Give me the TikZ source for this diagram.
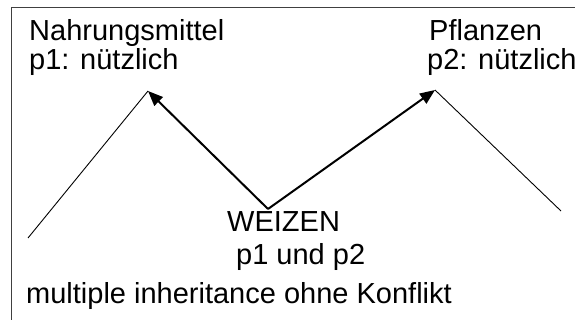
\documentclass[tikz,border=0pt]{standalone}
\usepackage{fontspec}
\setmainfont{Liberation Sans}
\usetikzlibrary{arrows.meta}
\begin{document}
\begin{tikzpicture}[x=1pt,y=-1pt,
  lbl/.style={inner sep=0pt,anchor=base west,font=\fontsize{29}{33}\selectfont},
  thinline/.style={line width=0.9pt},
  inherit/.style={line width=2pt,-{Triangle[length=15pt,width=12pt]}},
  frame/.style={line width=1pt,draw=black!75}]
\useasboundingbox (0,0) rectangle (575,320);
\begin{scope}
\clip (0,0) rectangle (575,320);
\draw[frame] (11.5,7.5) rectangle (620,360);
\end{scope}
% nodes
\node[lbl] (nahr) at (29,41) {Nahrungsmittel};
\node[lbl] (p1) at (29,70) {p1: nützlich};
\node[lbl] (pfl) at (429,41) {Pflanzen};
\node[lbl] (p2) at (427,70) {p2: nützlich};
\node[lbl] (weizen) at (227,232) {WEIZEN};
\node[lbl] (pund) at (236,264) {p1 und p2};
\node[lbl] (multi) at (26,303) {multiple inheritance ohne Konflikt};
% class apexes
\coordinate (A) at (148,91);
\coordinate (B) at (435,90);
\coordinate (W) at (268,209);
\coordinate (Aend) at (28,238);
\coordinate (Bend) at (561,211);
\draw[thinline] (Aend) -- (A);
\draw[thinline] (B) -- (Bend);
\draw[inherit] (W) -- (A);
\draw[inherit] (W) -- (B);
\end{tikzpicture}
\end{document}
